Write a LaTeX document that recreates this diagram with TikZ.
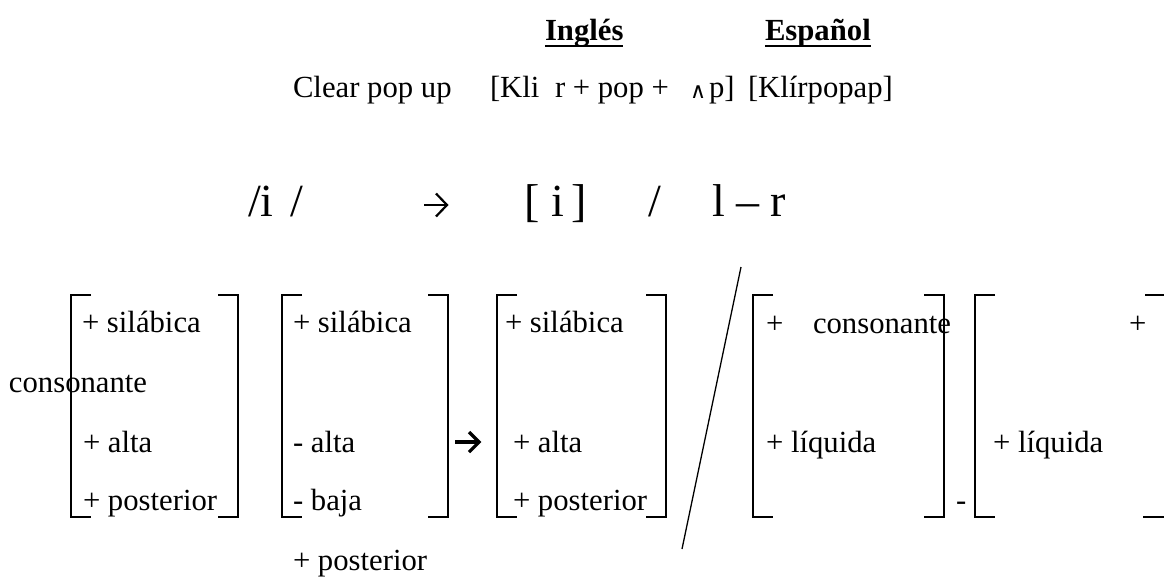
\documentclass[tikz,border=0pt]{standalone}
\usepackage{fontspec}
\setmainfont{Liberation Serif}
\newfontfamily\symfont{DejaVu Sans}
\newcommand{\txtsize}{\fontsize{30.7}{36}\selectfont}
\newcommand{\bigsize}{\fontsize{46}{54}\selectfont}
\tikzset{
  txt/.style={anchor=base west, inner sep=0pt, outer sep=0pt, font=\txtsize},
  bigtxt/.style={anchor=base west, inner sep=0pt, outer sep=0pt, font=\bigsize},
  brk/.style={line width=1.6pt},
  slashline/.style={line width=1.3pt},
  uline/.style={line width=2pt},
  chev/.style={line cap=butt, line join=miter}
}
\begin{document}
\begin{tikzpicture}[x=1pt,y=-1pt]
\useasboundingbox (0,0) rectangle (1164,576);
% header
\node[txt, font=\txtsize\bfseries] (ing) at (545,40) {Inglés};
\node[txt, font=\txtsize\bfseries] (esp) at (765,40) {Español};
\draw[uline] ([yshift=-6pt]ing.base west) -- ([yshift=-6pt]ing.base east);
\draw[uline] ([yshift=-6pt]esp.base west) -- ([yshift=-6pt]esp.base east);
% second line
\node[txt] (clear) at (293,97) {Clear pop up};
\node[txt] (kli) at (490,97) {[Kli};
\node[txt] (rpop) at (555,97) {r + pop +};
\node[txt, font=\fontsize{22}{26}\selectfont\symfont] (wedge) at (690,98) {∧};
\node[txt] (pbr) at (709,97) {p]};
\node[txt] (klir) at (748,97) {[Klírpopap]};
% big rule line
\node[bigtxt] (ii) at (248,216) {/i\hspace{17pt}/};
\coordinate (a1s) at (424,205);
\coordinate (a1e) at (447,205);
\draw[chev, line width=2.2pt] (a1s) -- (a1e);
\draw[chev, line width=2.2pt] (436,193.5) -- (a1e) -- (436,216.5);
\node[bigtxt] (bri) at (524,216) {[\hspace{12pt}i\hspace{7pt}]};
\node[bigtxt] (sl) at (648,216) {/};
\node[bigtxt] (lr) at (712,216) {l – r};
% matrix 1
\draw[brk] (91,295) -- (71,295) -- (71,517) -- (91,517);
\draw[brk] (218,295) -- (238,295) -- (238,517) -- (218,517);
\node[txt] (m1a) at (82,332) {+ silábica};
\node[txt] (m1b) at (9,392) {consonante};
\node[txt] (m1c) at (83,452) {+ alta};
\node[txt] (m1d) at (83,510) {+ posterior};
% matrix 2
\draw[brk] (302,295) -- (282,295) -- (282,517) -- (302,517);
\draw[brk] (428,295) -- (448,295) -- (448,517) -- (428,517);
\node[txt] (m2a) at (293,332) {+ silábica};
\node[txt] (m2b) at (293,452) {- alta};
\node[txt] (m2c) at (293,510) {- baja};
\node[txt] (m2d) at (293,570) {+ posterior};
% bold arrow
\coordinate (a2s) at (455,442);
\coordinate (a2e) at (479,442);
\draw[chev, line width=3.2pt] (a2s) -- (a2e);
\draw[chev, line width=3.2pt] (469,432) -- (a2e) -- (469,452);
% matrix 3
\draw[brk] (517,295) -- (497,295) -- (497,517) -- (517,517);
\draw[brk] (646,295) -- (666,295) -- (666,517) -- (646,517);
\node[txt] (m3a) at (505,332) {+ silábica};
\node[txt] (m3b) at (513,452) {+ alta};
\node[txt] (m3c) at (513,510) {+ posterior};
% slash
\draw[slashline] (682,549) -- (741,267);
% matrix 4
\draw[brk] (773,295) -- (753,295) -- (753,517) -- (773,517);
\draw[brk] (924,295) -- (944,295) -- (944,517) -- (924,517);
\node[txt] (m4a) at (766,333) {+};
\node[txt] (m4b) at (813,333) {consonante};
\node[txt] (m4c) at (766,452) {+ líquida};
\node[txt] (dash) at (956,510) {-};
% matrix 5
\draw[brk] (995,295) -- (975,295) -- (975,517) -- (995,517);
\draw[brk] (1145,295) -- (1167,295) -- (1167,517) -- (1143,517);
\node[txt] (m5a) at (993,452) {+ líquida};
\node[txt] (m5b) at (1129,333) {+};
\end{tikzpicture}
\end{document}
